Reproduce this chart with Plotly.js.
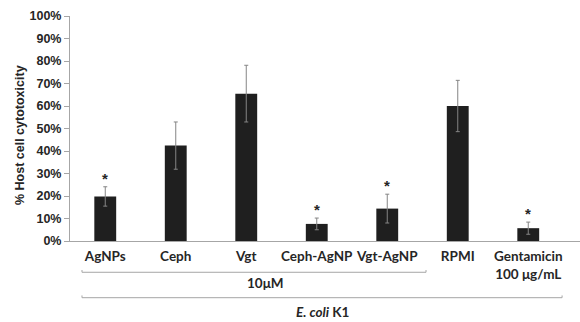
<!DOCTYPE html>
<html>
<head>
<meta charset="utf-8">
<script src="https://cdn.plot.ly/plotly-3.0.1.min.js"></script>
<style>html,body{margin:0;padding:0;background:#fff;}#chart{width:580px;height:322px;}</style>
</head>
<body>
<div id="chart"></div>
<script>
const categories = ["AgNPs", "Ceph", "Vgt", "Ceph-AgNP", "Vgt-AgNP", "RPMI", "Gentamicin<br>100 μg/mL"];
const values = [19.8, 42.4, 65.5, 7.6, 14.4, 60.0, 5.7];
const errors = [4.3, 10.5, 12.6, 2.6, 6.4, 11.4, 2.7];
const significant = [true, false, false, true, true, false, true];
const yTickValues = [0, 10, 20, 30, 40, 50, 60, 70, 80, 90, 100];
const yTickLabels = yTickValues.map(v => v + "%");
const yTitle = "% Host cell cytotoxicity";
const groupLabel = "10μM";
const strainLabel = "<i>E. coli</i> K1";

const idx = categories.map((c, i) => i);
const arial = "Liberation Sans, Arial, sans-serif";
const calib = "Lato, sans-serif";
const txt = "#262626";

const trace = {
  type: "bar",
  x: idx,
  y: values,
  width: 0.31,
  marker: {color: "#1f1f1f", line: {color: "#1f1f1f", width: 0}},
  error_y: {type: "data", array: errors, visible: true, color: "#858585", thickness: 1, width: 2},
  hoverinfo: "none"
};

const annotations = [];
idx.forEach(i => {
  if (significant[i]) {
    annotations.push({
      x: i, y: values[i] + errors[i], xref: "x", yref: "y",
      text: "*", showarrow: false, yanchor: "bottom", yshift: -2,
      font: {family: arial, size: 15, color: txt, weight: "bold"}
    });
  }
});
annotations.push({
  x: -0.098, y: 0.471, xref: "paper", yref: "paper", text: yTitle, showarrow: false,
  textangle: -90, xanchor: "center", yanchor: "middle",
  font: {family: arial, size: 12.5, color: txt, weight: "bold"}
});
annotations.push({
  x: 2.27, y: -0.185, xref: "x", yref: "paper", text: groupLabel, showarrow: false,
  xanchor: "center", yanchor: "middle",
  font: {family: calib, size: 13.5, color: txt, weight: "bold"}
});
annotations.push({
  x: 3.08, y: -0.358, xref: "x", yref: "paper", text: strainLabel, showarrow: false,
  xanchor: "center", yanchor: "bottom",
  font: {family: calib, size: 13.5, color: txt, weight: "bold"}
});

const by1 = -0.139, by2 = -0.252, tk = 0.01;
const shapes = [
  {type: "path", xref: "x", yref: "paper",
   path: `M -0.33,${by1 + tk} L -0.33,${by1} L 4.55,${by1} L 4.55,${by1 + tk}`,
   line: {color: "#a6a6a6", width: 1}},
  {type: "path", xref: "x", yref: "paper",
   path: `M -0.33,${by2 + tk} L -0.33,${by2} L 6.48,${by2} L 6.48,${by2 + tk}`,
   line: {color: "#a6a6a6", width: 1}}
];

const layout = {
  width: 580, height: 322,
  margin: {l: 70, r: 0, t: 16, b: 81, pad: 0},
  paper_bgcolor: "#fff", plot_bgcolor: "#fff",
  showlegend: false,
  xaxis: {
    range: [-0.5, 6.734], tickmode: "array", tickvals: idx, ticktext: categories,
    showgrid: false, zeroline: false, showline: true, linecolor: "#a6a6a6", linewidth: 1,
    ticks: "", ticklabelstandoff: 3,
    tickfont: {family: calib, size: 13.5, color: txt, weight: "bold"},
    fixedrange: true
  },
  yaxis: {
    range: [0, 100], tickmode: "array", tickvals: yTickValues, ticktext: yTickLabels,
    showgrid: false, zeroline: false, showline: true, linecolor: "#a6a6a6", linewidth: 1,
    ticks: "outside", ticklen: 5, tickcolor: "#a6a6a6",
    tickfont: {family: arial, size: 12.5, color: txt, weight: "bold"},
    fixedrange: true
  },
  annotations: annotations,
  shapes: shapes
};

Plotly.newPlot("chart", [trace], layout, {displayModeBar: false, staticPlot: true});
</script>
</body>
</html>
